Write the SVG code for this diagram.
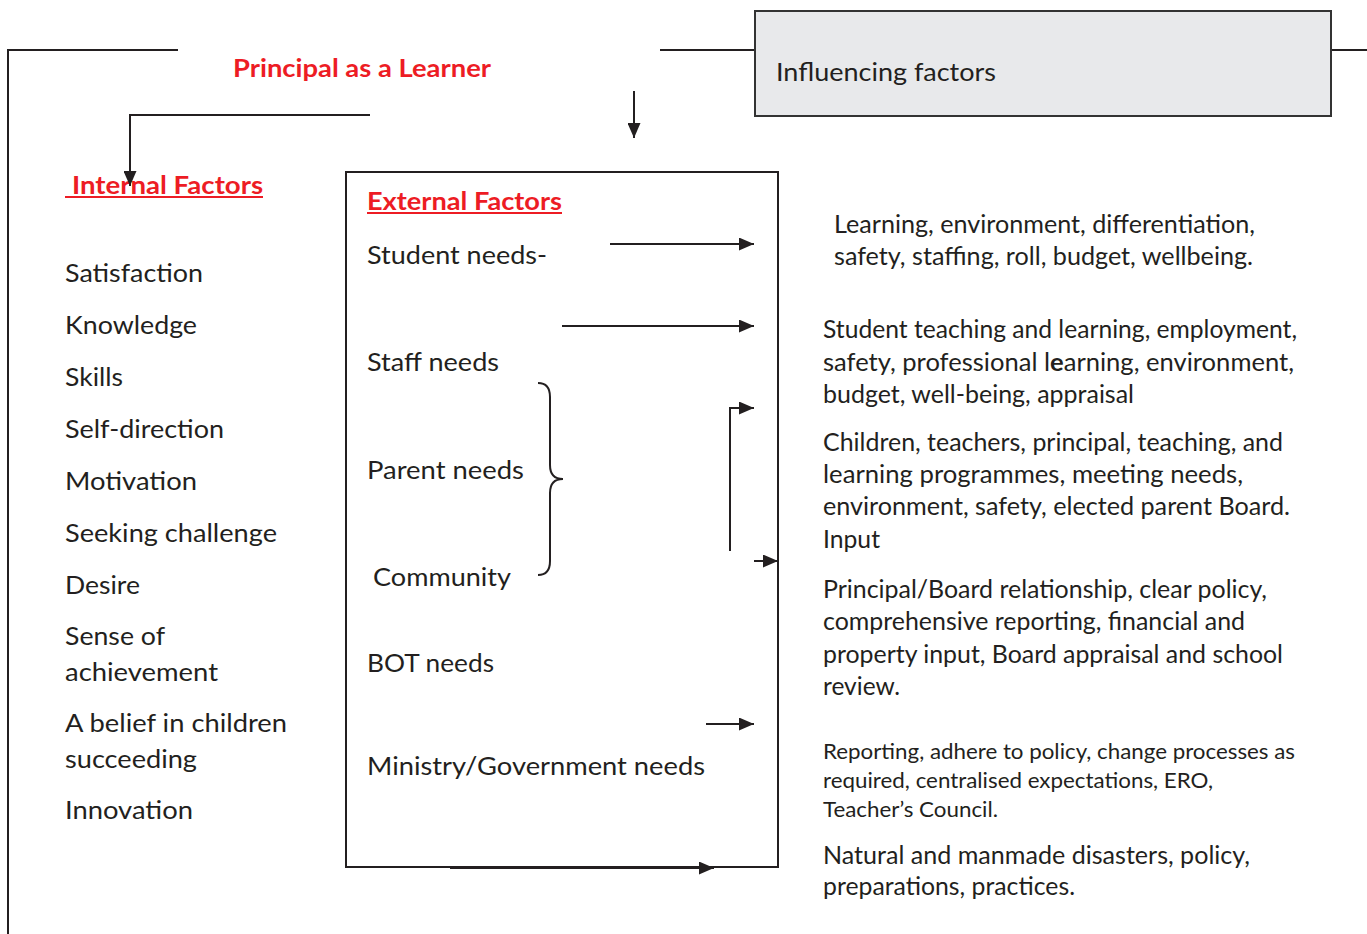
<svg xmlns="http://www.w3.org/2000/svg" width="1367" height="934" viewBox="0 0 1367 934">
<style>
.t{font-family:Lato,"Open Sans","Liberation Sans",sans-serif;font-size:25px;fill:#231f20}
.s{font-family:Lato,"Open Sans","Liberation Sans",sans-serif;font-size:21px;fill:#231f20}
.r{font-family:Lato,"Open Sans","Liberation Sans",sans-serif;font-size:25px;font-weight:bold;fill:#ed1c24}
.ln{fill:none;stroke:#231f20;stroke-width:2}
.ul{stroke:#ed1c24;stroke-width:2}
</style>
<defs>
<marker id="ah" viewBox="0 0 15 13" refX="15" refY="6.5" markerWidth="15" markerHeight="13" markerUnits="userSpaceOnUse" orient="auto">
<path d="M0,0 L15,6.5 L0,13 z" fill="#231f20"/>
</marker>
</defs>
<rect width="1367" height="934" fill="#ffffff"/>

<g id="frame">
<path class="ln" d="M8,934 L8,50 L178,50"/>
<line class="ln" x1="660" y1="50" x2="755" y2="50"/>
<line class="ln" x1="1331" y1="50" x2="1367" y2="50"/>
</g>

<g id="title">
<text class="r" x="233" y="77" textLength="258" lengthAdjust="spacingAndGlyphs">Principal as a Learner</text>
</g>

<g id="influencing">
<rect x="755" y="11" width="576" height="105" fill="#e8e9eb" stroke="#333333" stroke-width="2"/>
<text class="t" x="776" y="81" textLength="220" lengthAdjust="spacingAndGlyphs">Influencing factors</text>
</g>

<g id="internal">
<text class="r" x="72" y="194" textLength="191" lengthAdjust="spacingAndGlyphs">Internal Factors</text>
<line class="ul" x1="65" y1="197" x2="263" y2="197"/>
<text class="t" x="65" y="282" textLength="138" lengthAdjust="spacingAndGlyphs">Satisfaction</text>
<text class="t" x="65" y="334" textLength="132" lengthAdjust="spacingAndGlyphs">Knowledge</text>
<text class="t" x="65" y="386" textLength="58" lengthAdjust="spacingAndGlyphs">Skills</text>
<text class="t" x="65" y="438" textLength="159" lengthAdjust="spacingAndGlyphs">Self-direction</text>
<text class="t" x="65" y="490" textLength="132" lengthAdjust="spacingAndGlyphs">Motivation</text>
<text class="t" x="65" y="542" textLength="212" lengthAdjust="spacingAndGlyphs">Seeking challenge</text>
<text class="t" x="65" y="594" textLength="75" lengthAdjust="spacingAndGlyphs">Desire</text>
<text class="t" x="65" y="645" textLength="100" lengthAdjust="spacingAndGlyphs">Sense of</text>
<text class="t" x="65" y="681" textLength="153" lengthAdjust="spacingAndGlyphs">achievement</text>
<text class="t" x="65" y="732" textLength="222" lengthAdjust="spacingAndGlyphs">A belief in children</text>
<text class="t" x="65" y="768" textLength="132" lengthAdjust="spacingAndGlyphs">succeeding</text>
<text class="t" x="65" y="819" textLength="128" lengthAdjust="spacingAndGlyphs">Innovation</text>
</g>

<g id="external">
<rect x="346" y="172" width="432" height="695" fill="none" stroke="#231f20" stroke-width="2"/>
<text class="r" x="367" y="210" textLength="195" lengthAdjust="spacingAndGlyphs">External Factors</text>
<line class="ul" x1="367" y1="213" x2="562" y2="213"/>
<text class="t" x="367" y="264" textLength="180" lengthAdjust="spacingAndGlyphs">Student needs-</text>
<text class="t" x="367" y="371" textLength="132" lengthAdjust="spacingAndGlyphs">Staff needs</text>
<text class="t" x="367" y="479" textLength="157" lengthAdjust="spacingAndGlyphs">Parent needs</text>
<text class="t" x="373" y="586" textLength="138" lengthAdjust="spacingAndGlyphs">Community</text>
<text class="t" x="367" y="672" textLength="127" lengthAdjust="spacingAndGlyphs">BOT needs</text>
<text class="t" x="367" y="775" textLength="338" lengthAdjust="spacingAndGlyphs">Ministry/Government needs</text>
<path class="ln" d="M538,383 Q550,383 550,397 L550,465 Q550,479 563,479 Q550,479 550,493 L550,561 Q550,575 538,575"/>
</g>

<g id="student-factors">
<text class="t" x="834" y="233" textLength="421" lengthAdjust="spacingAndGlyphs">Learning, environment, differentiation,</text>
<text class="t" x="834" y="265" textLength="419" lengthAdjust="spacingAndGlyphs">safety, staffing, roll, budget, wellbeing.</text>
</g>

<g id="staff-factors">
<text class="t" x="823" y="338" textLength="474" lengthAdjust="spacingAndGlyphs">Student teaching and learning, employment,</text>
<text class="t" x="823" y="371" textLength="471" lengthAdjust="spacingAndGlyphs">safety, professional l<tspan font-weight="bold">e</tspan>arning, environment,</text>
<text class="t" x="823" y="403" textLength="311" lengthAdjust="spacingAndGlyphs">budget, well-being, appraisal</text>
</g>

<g id="parent-factors">
<text class="t" x="823" y="451" textLength="460" lengthAdjust="spacingAndGlyphs">Children, teachers, principal, teaching, and</text>
<text class="t" x="823" y="483" textLength="420" lengthAdjust="spacingAndGlyphs">learning programmes, meeting needs,</text>
<text class="t" x="823" y="515" textLength="467" lengthAdjust="spacingAndGlyphs">environment, safety, elected parent Board.</text>
<text class="t" x="823" y="548" textLength="57" lengthAdjust="spacingAndGlyphs">Input</text>
</g>

<g id="board-factors">
<text class="t" x="823" y="598" textLength="444" lengthAdjust="spacingAndGlyphs">Principal/Board relationship, clear policy,</text>
<text class="t" x="823" y="630" textLength="422" lengthAdjust="spacingAndGlyphs">comprehensive reporting, financial and</text>
<text class="t" x="823" y="663" textLength="460" lengthAdjust="spacingAndGlyphs">property input, Board appraisal and school</text>
<text class="t" x="823" y="695" textLength="77" lengthAdjust="spacingAndGlyphs">review.</text>
</g>

<g id="ministry-factors">
<text class="s" x="823" y="759" textLength="472" lengthAdjust="spacingAndGlyphs">Reporting, adhere to policy, change processes as</text>
<text class="s" x="823" y="788" textLength="390" lengthAdjust="spacingAndGlyphs">required, centralised expectations, ERO,</text>
<text class="s" x="823" y="817" textLength="175" lengthAdjust="spacingAndGlyphs">Teacher’s Council.</text>
</g>

<g id="other-factors">
<text class="t" x="823" y="864" textLength="427" lengthAdjust="spacingAndGlyphs">Natural and manmade disasters, policy,</text>
<text class="t" x="823" y="895" textLength="252" lengthAdjust="spacingAndGlyphs">preparations, practices.</text>
</g>

<g id="connectors">
<path class="ln" d="M370,115 L130,115 L130,186" marker-end="url(#ah)"/>
<line class="ln" x1="634" y1="91" x2="634" y2="138" marker-end="url(#ah)"/>
<line class="ln" x1="610" y1="244" x2="754" y2="244" marker-end="url(#ah)"/>
<line class="ln" x1="562" y1="326" x2="754" y2="326" marker-end="url(#ah)"/>
<path class="ln" d="M730,551 L730,408 L754,408" marker-end="url(#ah)"/>
<line class="ln" x1="754" y1="561" x2="778" y2="561" marker-end="url(#ah)"/>
<line class="ln" x1="706" y1="724" x2="754" y2="724" marker-end="url(#ah)"/>
<line class="ln" x1="450" y1="868" x2="714" y2="868" stroke-width="3" marker-end="url(#ah)"/>
</g>
</svg>
